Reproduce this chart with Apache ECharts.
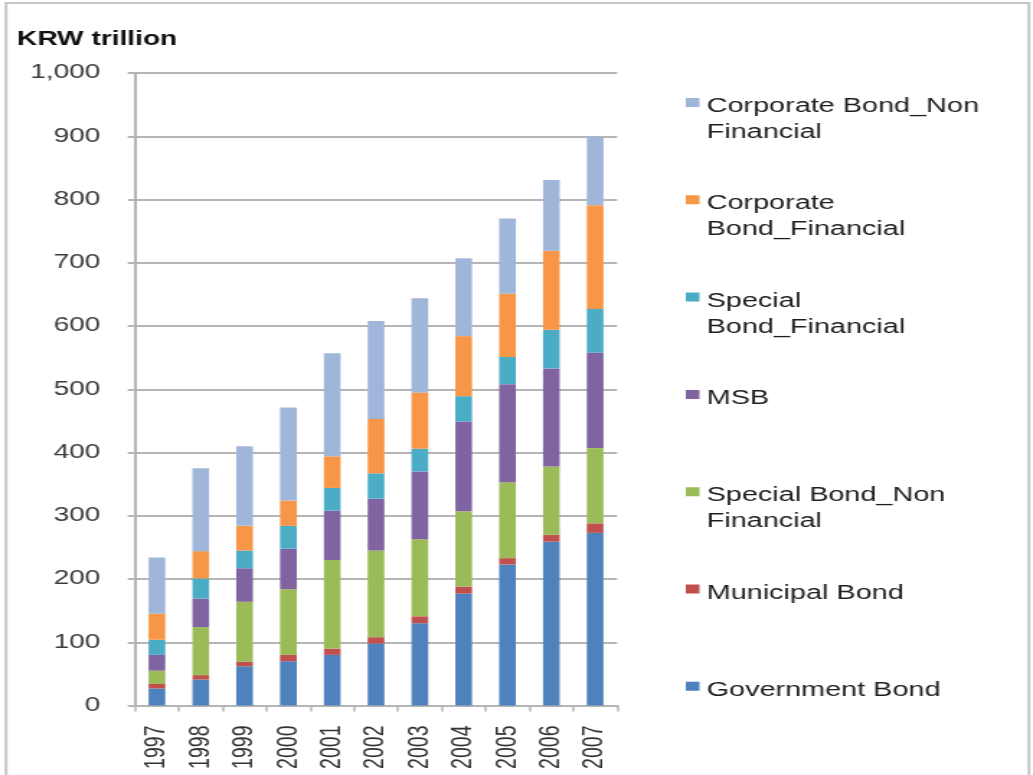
<!DOCTYPE html>
<html>
<head>
<meta charset="utf-8">
<script src="https://cdn.jsdelivr.net/npm/echarts@6/dist/echarts.min.js"></script>
<style>
  html, body { margin: 0; padding: 0; background: #fff; overflow: hidden; }
  /* the source picture is a horizontally stretched export, so draw narrow and widen */
  #chart { width: 717px; height: 775px; transform: scaleX(1.4407); transform-origin: 0 0; }
</style>
</head>
<body>
<div id="chart"></div>
<script>
const years = ["1997", "1998", "1999", "2000", "2001", "2002", "2003", "2004", "2005", "2006", "2007"];

// KRW trillion, bottom of the stack first
const governmentBond = [27, 41, 62, 70, 80, 98, 130, 177, 223, 259, 273];
const municipalBond = [7, 7, 7, 10, 10, 10, 11, 11, 10, 11, 15];
const specialBondNonFinancial = [21, 76, 95, 104, 140, 137, 122, 119, 120, 108, 119];
const msb = [25, 45, 53, 64, 78, 82, 107, 142, 155, 155, 151];
const specialBondFinancial = [24, 32, 28, 36, 36, 40, 36, 40, 43, 61, 69];
const corporateBondFinancial = [41, 43, 39, 40, 50, 86, 89, 95, 100, 125, 164];
const corporateBondNonFinancial = [89, 131, 126, 147, 163, 155, 149, 123, 119, 112, 108];

const seriesNames = [
  "Government Bond",
  "Municipal Bond",
  "Special Bond_Non Financial",
  "MSB",
  "Special Bond_Financial",
  "Corporate Bond_Financial",
  "Corporate Bond_Non Financial",
];
const legendLabels = [
  "Government Bond",
  "Municipal Bond",
  "Special Bond_Non\nFinancial",
  "MSB",
  "Special\nBond_Financial",
  "Corporate\nBond_Financial",
  "Corporate Bond_Non\nFinancial",
];
const seriesData = [
  governmentBond,
  municipalBond,
  specialBondNonFinancial,
  msb,
  specialBondFinancial,
  corporateBondFinancial,
  corporateBondNonFinancial,
];
const colors = ["#4f81bd", "#c0504d", "#9bbb59", "#8064a2", "#4bacc6", "#f79646", "#9fb6da"];

const font = "Liberation Sans, Arial, sans-serif";
const gridColor = "#b5b5b5";
const lineH = 26;

// legend runs top-down in reverse stack order; square sits on the first text line
const legends = seriesNames.map((name, i) => {
  const row = seriesNames.length - 1 - i;
  const lines = legendLabels[i].split("\n").length;
  const h = lineH * lines;
  return {
    data: [name],
    orient: "vertical",
    left: 476,
    top: 102.5 + row * 97.3 - 9,
    padding: 0,
    itemWidth: 9.5,
    itemHeight: h,
    icon: `path://M0,4.5H9.5V13.5H0Z M0,0H9.5 M0,${h}H9.5`,
    itemStyle: { borderWidth: 0 },
    selectedMode: false,
    formatter: () => legendLabels[i],
    textStyle: { fontFamily: font, fontSize: 20, lineHeight: lineH, color: "#1e1e1e" },
  };
});

const chart = echarts.init(document.getElementById("chart"));
chart.setOption({
  animation: false,
  backgroundColor: "#fff",
  title: {
    text: "KRW trillion",
    left: 11.8,
    top: 29.5,
    padding: 0,
    textStyle: { fontFamily: font, fontSize: 19.5, fontWeight: "bold", color: "#111" },
  },
  graphic: [
    {
      type: "rect",
      shape: { x: 4.2, y: 3, width: 710, height: 800 },
      style: { fill: "none", stroke: "#c6c6c6", lineWidth: 2 },
      silent: true,
    },
  ],
  legend: legends,
  grid: { left: 93.7, top: 73, width: 334.6, height: 632.5 },
  xAxis: {
    type: "category",
    data: years,
    axisLine: { lineStyle: { color: gridColor, width: 2 } },
    axisTick: { show: true, interval: 0, length: 6, lineStyle: { color: gridColor, width: 1.5 } },
    axisLabel: { rotate: 90, margin: 20, interval: 0, fontFamily: font, fontSize: 19.5, color: "#333" },
  },
  yAxis: {
    type: "value",
    min: 0,
    max: 1000,
    interval: 100,
    axisLine: { show: true, lineStyle: { color: gridColor, width: 2 } },
    axisTick: { show: true, length: 5, lineStyle: { color: gridColor, width: 2 } },
    splitLine: { lineStyle: { color: gridColor, width: 2 } },
    axisLabel: {
      margin: 24,
      fontFamily: font,
      fontSize: 19.5,
      color: "#3c3c3c",
      formatter: (v) => v.toLocaleString("en-US"),
    },
  },
  series: seriesNames.map((name, i) => ({
    name: name,
    type: "bar",
    stack: "bonds",
    barWidth: "38%",
    itemStyle: { color: colors[i] },
    data: seriesData[i],
  })),
});
</script>
</body>
</html>
